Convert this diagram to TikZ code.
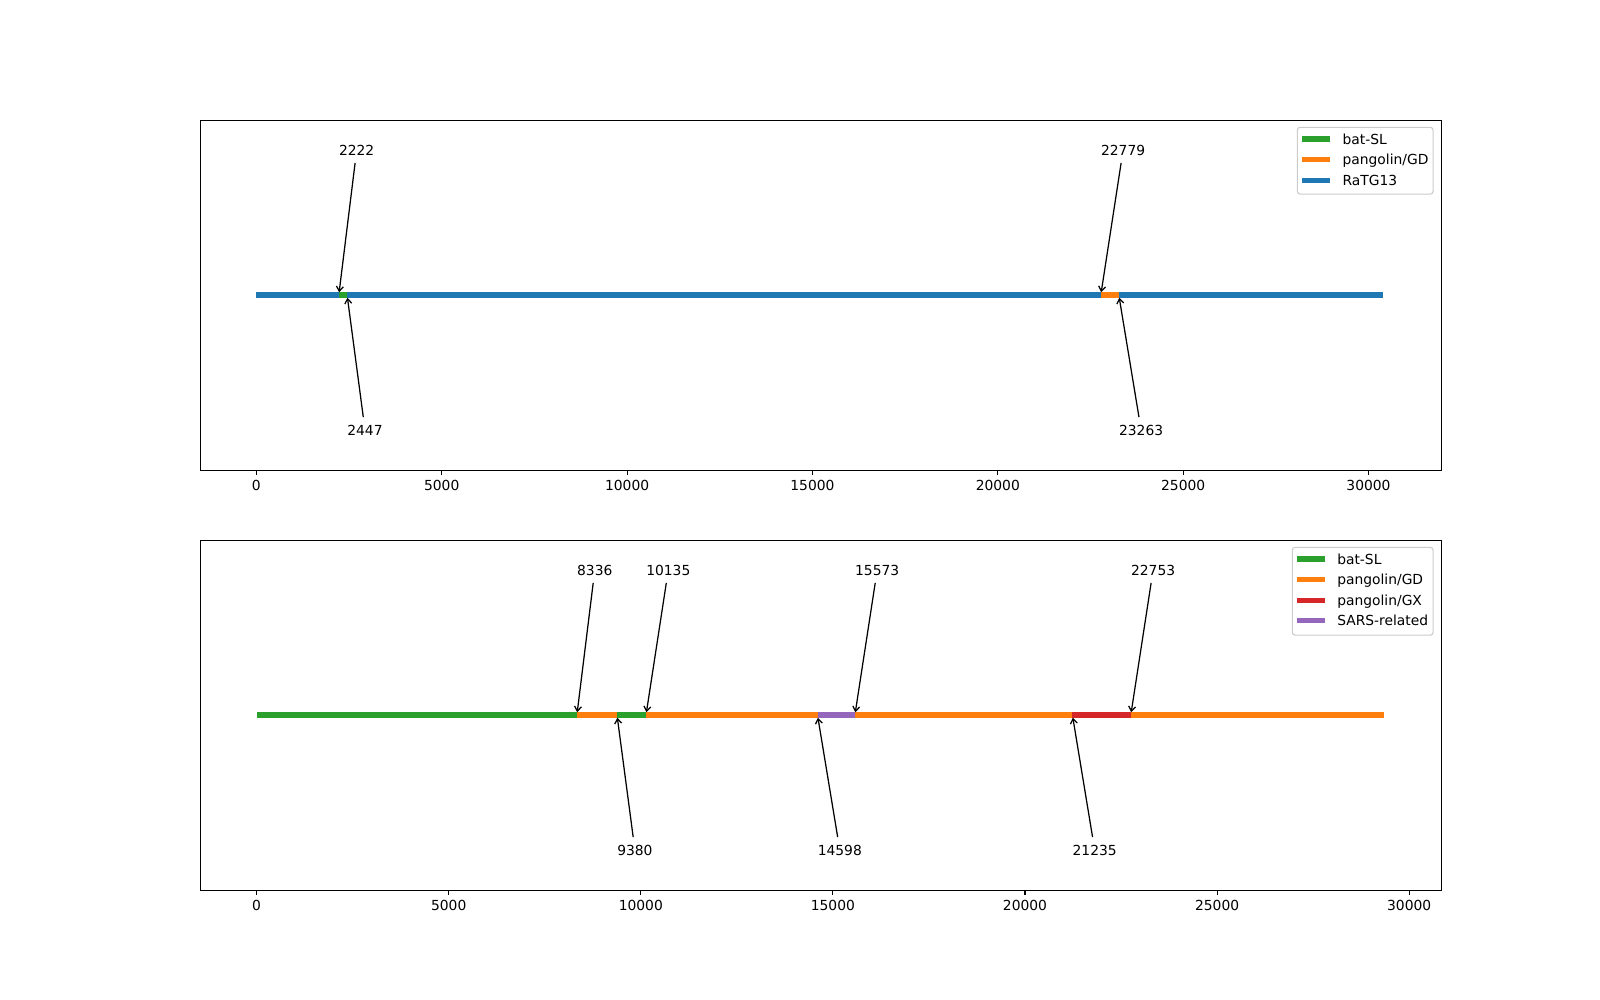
\documentclass[tikz,border=0pt]{standalone}
\usepackage{fontspec}
\setmainfont{DejaVu Sans}
\usetikzlibrary{arrows.meta,positioning}
\definecolor{tabblue}{HTML}{1F77B4}
\definecolor{taborange}{HTML}{FF7F0E}
\definecolor{tabgreen}{HTML}{2CA02C}
\definecolor{tabred}{HTML}{D62728}
\definecolor{tabpurple}{HTML}{9467BD}

\begin{document}
\begin{tikzpicture}[x=0.01in, y=-0.01in,
  axbox/.style={draw=black, line width=0.8pt, minimum width=12.4in, minimum height=3.5in,
                inner sep=0pt, anchor=north west},
  seg/.style={line width=4pt, line cap=butt},
  num/.style={inner xsep=0pt, inner ysep=2pt, text height=7.3pt, text depth=0pt, anchor=west},
  ann/.style={-{Straight Barb[length=3.5pt,width=5pt]}, line width=0.9pt,
              shorten <=3.5pt, shorten >=2pt},
  tickmark/.style={line width=0.8pt},
  ticklbl/.style={inner sep=0pt, text height=7.3pt, text depth=0pt},
  legbox/.style={draw=black!20, fill=white, fill opacity=0.8, rounded corners=2pt,
                 line width=0.8pt, inner sep=0pt},
  legline/.style={line width=4pt},
  legtext/.style={inner sep=0pt, text height=7.3pt, text depth=0pt, anchor=west}
]
\useasboundingbox (0,0) rectangle (1600,1000);

% Axes
\node[axbox] (axA) at (200,120) {};
\node[axbox] (axB) at (200,540) {};

% Ticks
\foreach \k/\v in {0/0,1/5000,2/10000,3/15000,4/20000,5/25000,6/30000} {
  \pgfmathsetmacro\tx{256.4+185.35*\k}
  \draw[tickmark] (\tx,470) -- (\tx,474.9);
  \node[ticklbl] (tA\k) at (\tx,485) {\v};
  \pgfmathsetmacro\ux{256.6+192.1*\k}
  \draw[tickmark] (\ux,890) -- (\ux,894.9);
  \node[ticklbl] (tB\k) at (\ux,905) {\v};
}

% Top genome
\coordinate (a0) at (256.4,295);
\coordinate (a1) at (338.8,295);
\coordinate (a2) at (347.1,295);
\coordinate (a3) at (1100.8,295);
\coordinate (a4) at (1118.8,295);
\coordinate (a5) at (1383.3,295);
\foreach \s/\e/\c in {a0/a1/tabblue, a1/a2/tabgreen, a2/a3/tabblue, a3/a4/taborange, a4/a5/tabblue}
  \draw[seg, \c] (\s) -- (\e);

\node[num] (n2222)  at (338.8,150)  {2222};
\node[num] (n2447)  at (347.1,430)  {2447};
\node[num] (n22779) at (1100.8,150) {22779};
\node[num] (n23263) at (1118.8,430) {23263};
\draw[ann] (n2222) -- (a1);
\draw[ann] (n2447) -- (a2);
\draw[ann] (n22779) -- (a3);
\draw[ann] (n23263) -- (a4);

% Bottom genome
\coordinate (b0) at (256.6,715);
\coordinate (b1) at (576.9,715);
\coordinate (b2) at (617.0,715);
\coordinate (b3) at (646.0,715);
\coordinate (b4) at (817.5,715);
\coordinate (b5) at (854.9,715);
\coordinate (b6) at (1072.4,715);
\coordinate (b7) at (1130.8,715);
\coordinate (b8) at (1383.5,715);
\foreach \s/\e/\c in {b0/b1/tabgreen, b1/b2/taborange, b2/b3/tabgreen, b3/b4/taborange,
                      b4/b5/tabpurple, b5/b6/taborange, b6/b7/tabred, b7/b8/taborange}
  \draw[seg, \c] (\s) -- (\e);

\node[num] (n8336)  at (576.9,570)  {8336};
\node[num] (n9380)  at (617.0,850)  {9380};
\node[num] (n10135) at (646.0,570)  {10135};
\node[num] (n14598) at (817.5,850)  {14598};
\node[num] (n15573) at (854.9,570)  {15573};
\node[num] (n21235) at (1072.4,850) {21235};
\node[num] (n22753) at (1130.8,570) {22753};
\draw[ann] (n8336) -- (b1);
\draw[ann] (n9380) -- (b2);
\draw[ann] (n10135) -- (b3);
\draw[ann] (n14598) -- (b4);
\draw[ann] (n15573) -- (b5);
\draw[ann] (n21235) -- (b6);
\draw[ann] (n22753) -- (b7);

% Legends
\node[legbox, minimum width=1.357in, minimum height=0.667in] (legA) at (1365.2,160.7) {};
\foreach \y/\c/\t [count=\i] in {139/tabgreen/bat-SL, 159.3/taborange/{pangolin/GD}, 180.3/tabblue/RaTG13} {
  \draw[legline, \c] (1302.3,\y) -- (1330,\y);
  \node[legtext] (legA\i) at (1342.3,\y) {\t};
}
\node[legbox, minimum width=1.407in, minimum height=0.877in] (legB) at (1362.7,591.2) {};
\foreach \y/\c/\t [count=\i] in {559/tabgreen/bat-SL, 579.3/taborange/{pangolin/GD},
                                 600.3/tabred/{pangolin/GX}, 620.7/tabpurple/SARS-related} {
  \draw[legline, \c] (1297,\y) -- (1325,\y);
  \node[legtext] (legB\i) at (1337,\y) {\t};
}
\end{tikzpicture}
\end{document}
